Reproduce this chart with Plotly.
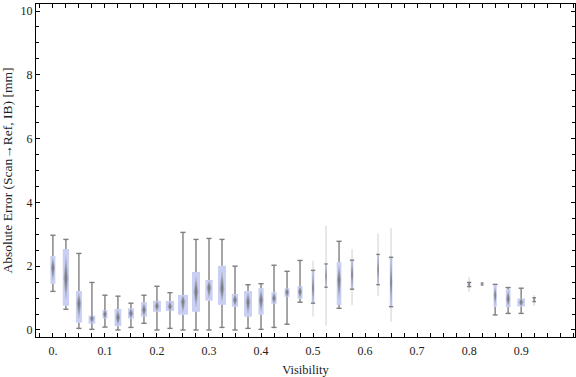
import plotly.graph_objects as go

# ---------------- data ----------------
visibility = [0.000, 0.025, 0.050, 0.075, 0.100, 0.125, 0.150, 0.175, 0.200, 0.225,
              0.250, 0.275, 0.300, 0.325, 0.350, 0.375, 0.400, 0.425, 0.450, 0.475,
              0.500, 0.525, 0.550, 0.575, 0.625, 0.650,
              0.800, 0.825, 0.850, 0.875, 0.900, 0.925]
whisker_lo = [1.21, 0.65, 0.05, 0.02, 0.09, 0.00, 0.08, 0.21, 0.00, 0.05,
              0.00, 0.00, 0.00, 0.08, 0.00, 0.05, 0.02, 0.08, 0.18, 0.87,
              0.84, 1.34, 0.68, 1.28, 1.42, 0.73,
              1.36, 1.41, 0.47, 0.52, 0.52, 0.89]
q1 = [1.45, 0.76, 0.23, 0.20, 0.36, 0.12, 0.36, 0.42, 0.57, 0.60,
      0.48, 0.57, 0.92, 0.79, 0.73, 0.42, 0.48, 0.82, 1.04, 0.98,
      0.84, 1.34, 0.78, 1.28, 1.42, 0.73,
      1.36, 1.42, 0.73, 0.71, 0.74, 0.89]
median = [1.95, 1.62, 0.84, 0.37, 0.49, 0.39, 0.52, 0.63, 0.75, 0.73,
          0.89, 1.20, 1.33, 1.29, 0.94, 0.88, 0.94, 0.99, 1.18, 1.20,
          1.30, 1.70, 1.57, 1.75, 1.90, 1.50,
          1.43, 1.44, 1.08, 0.97, 0.87, 0.95]
q3 = [2.32, 2.54, 1.22, 0.45, 0.63, 0.66, 0.68, 0.87, 0.91, 0.91,
      1.10, 1.82, 1.57, 2.01, 1.13, 1.22, 1.31, 1.18, 1.31, 1.38,
      1.87, 2.07, 2.13, 2.19, 2.37, 2.28,
      1.49, 1.46, 1.41, 1.28, 0.99, 1.01]
whisker_hi = [2.97, 2.84, 2.40, 1.49, 1.09, 1.06, 0.84, 1.09, 1.37, 1.17,
              3.06, 2.84, 2.87, 2.84, 2.00, 1.42, 1.45, 2.03, 1.84, 2.18,
              1.87, 2.07, 2.78, 2.19, 2.37, 2.28,
              1.49, 1.47, 1.43, 1.33, 1.31, 1.01]
# relative sample size (drives box width)
rel_count = [0.50, 0.63, 0.60, 0.67, 0.50, 0.67, 0.60, 0.60, 0.80, 0.83,
             1.00, 0.80, 0.73, 0.80, 0.63, 0.80, 0.53, 0.53, 0.50, 0.50,
             0.27, 0.17, 0.47, 0.27, 0.20, 0.27,
             0.27, 0.10, 0.33, 0.47, 0.77, 0.20]
# faint density tails for sparse groups
tail_lo = [None] * 20 + [0.42, 0.13, None, 0.78, 1.07, 0.26, 1.20, None, None, None, None, 0.75]
tail_hi = [None] * 20 + [2.17, 3.27, None, 2.53, 3.03, 3.19, 1.67, None, None, None, None, 1.10]

x_tickvals = [0.0, 0.1, 0.2, 0.3, 0.4, 0.5, 0.6, 0.7, 0.8, 0.9]
x_ticktext = ["0.", "0.1", "0.2", "0.3", "0.4", "0.5", "0.6", "0.7", "0.8", "0.9"]
y_tickvals = [0, 2, 4, 6, 8, 10]

# ---------------- layout constants ----------------
W, H = 576, 377
ML, MR, MT, MB = 36, 1, 4, 40
XMIN, XMAX = -0.0325, 1.0035
YMIN, YMAX = -0.22, 10.22
px_x = (W - ML - MR) / (XMAX - XMIN)
px_y = (H - MT - MB) / (YMAX - YMIN)

BOX_COLOR = "#c9d0f4"
WHISK_COLOR = "#7f7f7f"
FONT = "Liberation Serif"

box_px = [max(rc * 10.0, 1.2) for rc in rel_count]
box_w = [b / px_x for b in box_px]

fig = go.Figure()

# tails
tx, ty = [], []
for x, lo, hi in zip(visibility, tail_lo, tail_hi):
    if lo is None:
        continue
    tx += [x, x, None]
    ty += [lo, hi, None]
fig.add_trace(go.Scatter(x=tx, y=ty, mode="lines",
                         line=dict(color="rgba(140,140,140,0.25)", width=1.6),
                         hoverinfo="skip"))

# boxes
fig.add_trace(go.Bar(x=visibility, y=[b - a for a, b in zip(q1, q3)], base=q1,
                     width=box_w, marker=dict(color=BOX_COLOR, line=dict(width=0)),
                     hoverinfo="skip"))

# whiskers + caps
wx, wy = [], []
for x, lo, a, b, hi, bp in zip(visibility, whisker_lo, q1, q3, whisker_hi, box_px):
    cap = min(2.6, bp / 2 + 0.8) / px_x
    if hi > b:
        wx += [x, x, None]
        wy += [b, hi, None]
    if lo < a:
        wx += [x, x, None]
        wy += [a, lo, None]
    wx += [x - cap, x + cap, None, x - cap, x + cap, None]
    wy += [hi, hi, None, lo, lo, None]
fig.add_trace(go.Scatter(x=wx, y=wy, mode="lines",
                         line=dict(color=WHISK_COLOR, width=1.4),
                         hoverinfo="skip"))

# density diamonds (two layers to imitate soft shading)
for scale_w, scale_h, col in [(1.0, 0.75, "rgba(125,125,125,0.45)"),
                              (0.55, 0.45, "rgba(100,100,100,0.6)")]:
    dx, dy = [], []
    for x, a, m, b, bp in zip(visibility, q1, median, q3, box_px):
        hw = min(2.3, bp * 0.42) * scale_w / px_x
        top = m + scale_h * (b - m) + 1.5 / px_y
        bot = m - scale_h * (m - a) - 1.5 / px_y
        dx += [x, x + hw, x, x - hw, x, None]
        dy += [bot, m, top, m, bot, None]
    fig.add_trace(go.Scatter(x=dx, y=dy, mode="lines", fill="toself",
                             fillcolor=col, line=dict(width=0),
                             hoverinfo="skip"))

axis_common = dict(showgrid=False, zeroline=False, showline=True, linecolor="black",
                   linewidth=1, mirror="ticks", ticks="inside", tickcolor="black",
                   tickwidth=1, ticklen=4, automargin=False,
                   tickfont=dict(family=FONT, size=12, color="#222"))

fig.update_layout(
    width=W, height=H,
    margin=dict(l=ML, r=MR, t=MT, b=MB, autoexpand=False),
    paper_bgcolor="white", plot_bgcolor="white",
    showlegend=False, barmode="overlay",
    xaxis=dict(range=[XMIN, XMAX], tickvals=x_tickvals, ticktext=x_ticktext,
               ticklabelstandoff=3,
               minor=dict(dtick=0.025, tick0=0, ticks="inside", ticklen=4,
                          tickcolor="black", tickwidth=1),
               title=dict(text="Visibility", font=dict(family=FONT, size=12.5, color="#222"),
                          standoff=7),
               **axis_common),
    yaxis=dict(range=[YMIN, YMAX], tickvals=y_tickvals,
               minor=dict(dtick=0.5, tick0=0, ticks="inside", ticklen=3,
                          tickcolor="black", tickwidth=1),
               title=dict(text="Absolute Error (Scan\u2192Ref, IB) [mm]",
                          font=dict(family=FONT, size=13.5, color="#222"), standoff=6),
               **axis_common),
)

fig.write_html("out.html",
               config={"displayModeBar": False},
               post_script="document.body.style.margin='0';document.body.style.overflow='hidden';")
